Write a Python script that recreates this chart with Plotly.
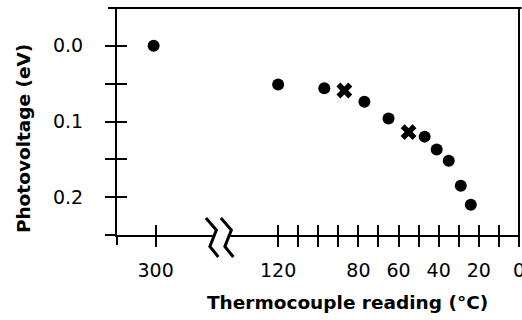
import plotly.graph_objects as go

# Photovoltage versus thermocouple reading (broken temperature axis)
temp_hot = [301]
pv_hot = [0.000]

temp_dots = [120, 97, 77, 65, 47, 41, 35, 29, 24]
pv_dots = [0.051, 0.056, 0.074, 0.096, 0.120, 0.137, 0.152, 0.185, 0.210]

temp_cross = [87, 55]
pv_cross = [0.059, 0.114]

x_left_ticks = [300]
x_left_labels = ["300"]
x_right_ticks = [120, 110, 100, 90, 80, 70, 60, 50, 40, 30, 20, 10, 0]
x_right_labels = ["120", "", "", "", "80", "", "60", "", "40", "", "20", "", "0"]
y_ticks = [0.0, 0.05, 0.1, 0.15, 0.2]
y_labels = ["0.0", "", "0.1", "", "0.2"]

W, H = 522, 320
L, R, T, B = 117, 2.5, 8, 85
PW, PH = W - L - R, H - T - B


def px(x):
    return (x - L) / PW


def py(y):
    return (H - B - y) / PH


# about 2.01 px per degree on both sides of the break
left_dom = [0, px(215.5)]
right_dom = [px(230.5), 1]
left_range = [319.25, 270.25]
right_range = [143.8, -0.01]
y_range = [0.25, -0.05]

INK = "black"
tick_font = dict(family="DejaVu Sans", size=19, color=INK)
title_font = dict(family="DejaVu Sans", size=18.5, color=INK, weight="bold")

fig = go.Figure()
fig.add_trace(go.Scatter(x=temp_hot, y=pv_hot, xaxis="x", yaxis="y", mode="markers",
                         marker=dict(symbol="circle", size=12, color=INK), showlegend=False))
fig.add_trace(go.Scatter(x=temp_dots, y=pv_dots, xaxis="x2", yaxis="y", mode="markers",
                         marker=dict(symbol="circle", size=12, color=INK), showlegend=False))
fig.add_trace(go.Scatter(x=temp_cross, y=pv_cross, xaxis="x2", yaxis="y", mode="markers",
                         marker=dict(symbol="x", size=14, color=INK), showlegend=False))
# empty traces so the overlay axes carrying the inward tick halves get drawn
fig.add_trace(go.Scatter(x=[None], y=[None], xaxis="x3", yaxis="y2", mode="markers",
                         showlegend=False, hoverinfo="skip"))
fig.add_trace(go.Scatter(x=[None], y=[None], xaxis="x4", yaxis="y2", mode="markers",
                         showlegend=False, hoverinfo="skip"))

axis_common = dict(showgrid=False, zeroline=False, linecolor=INK, linewidth=2,
                   tickcolor=INK, tickwidth=2, ticklen=10, automargin=False)

fig.update_layout(
    width=W, height=H,
    margin=dict(l=L, r=R, t=T, b=B, pad=0, autoexpand=False),
    paper_bgcolor="white", plot_bgcolor="white",
    showlegend=False,
    xaxis=dict(domain=left_dom, range=left_range, anchor="y", showline=True,
               ticks="outside", tickmode="array", tickvals=x_left_ticks,
               ticktext=x_left_labels, tickfont=tick_font, ticklabelstandoff=7,
               **axis_common),
    xaxis2=dict(domain=right_dom, range=right_range, anchor="y", showline=True,
                ticks="outside", tickmode="array", tickvals=x_right_ticks,
                ticktext=x_right_labels, tickfont=tick_font, ticklabelstandoff=7,
                ticklabeloverflow="allow", **axis_common),
    # inward halves of the crossing tick marks
    xaxis3=dict(domain=left_dom, range=left_range, anchor="y2", overlaying="x",
                showline=False, ticks="inside", tickmode="array", tickvals=x_left_ticks,
                showticklabels=False, side="bottom", **axis_common),
    xaxis4=dict(domain=right_dom, range=right_range, anchor="y2", overlaying="x2",
                showline=False, ticks="inside", tickmode="array", tickvals=x_right_ticks,
                showticklabels=False, side="bottom", **axis_common),
    yaxis=dict(range=y_range, anchor="x", showline=True, ticks="outside",
               tickmode="array", tickvals=y_ticks, ticktext=y_labels,
               tickfont=tick_font, ticklabelstandoff=18, **axis_common),
    yaxis2=dict(range=y_range, anchor="x3", overlaying="y", showline=False,
                ticks="inside", tickmode="array", tickvals=y_ticks,
                showticklabels=False, side="left", **axis_common),
)

# frame lines and their overhangs
line = dict(color=INK, width=2)
frame = [
    (108, 8, 522, 8),        # top
    (519.5, 8, 519.5, 237),  # right
    (105, 235, 117, 235),    # bottom overhang left of y axis
    (117, 235, 117, 245),    # y axis overhang below
]
for x0, y0, x1, y1 in frame:
    fig.add_shape(type="line", xref="paper", yref="paper",
                  x0=px(x0), y0=py(y0), x1=px(x1), y1=py(y1), line=line)

# axis-break symbol
for dx in (0, 15):
    pts = [(206 + dx, 218), (216.5 + dx, 230), (210 + dx, 246.5), (218.5 + dx, 257)]
    path = "M " + " L ".join(f"{px(a):.5f},{py(b):.5f}" for a, b in pts)
    fig.add_shape(type="path", xref="paper", yref="paper", path=path,
                  line=dict(color=INK, width=3))

fig.add_annotation(text="Thermocouple reading (°C)", xref="paper", yref="paper",
                   x=px(347.5), y=py(302), xanchor="center", yanchor="middle",
                   showarrow=False, font=title_font)
fig.add_annotation(text="Photovoltage (eV)", xref="paper", yref="paper",
                   x=px(23), y=py(139), xanchor="center", yanchor="middle",
                   textangle=-90, showarrow=False, font=title_font)

fig.write_html("out.html")
